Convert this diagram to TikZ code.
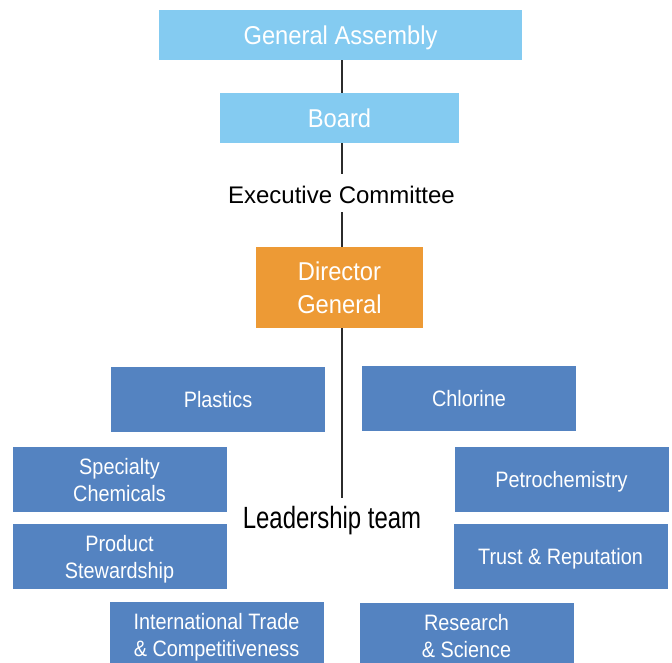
\documentclass[tikz,border=0pt]{standalone}
\usepackage{fontspec}
\setmainfont{Liberation Sans}
\newfontfamily\govfont[FakeStretch=0.92]{Liberation Sans}
\newfontfamily\unitfont[FakeStretch=0.89]{Liberation Sans}
\newfontfamily\leadfont[FakeStretch=0.78]{Liberation Sans}
\definecolor{govblue}{HTML}{84CBF1}
\definecolor{dgorange}{HTML}{ED9A35}
\definecolor{unitblue}{HTML}{5483C1}
\definecolor{spine}{HTML}{2B2B2B}
\begin{document}
\begin{tikzpicture}[x=1pt,y=-1pt,
  govbox/.style={fill=govblue,text=white,inner sep=0pt,minimum height=50pt,
    font=\govfont\fontsize{25.8}{33.3}\selectfont,text height=18.5pt,text depth=0pt},
  dgbox/.style={fill=dgorange,text=white,inner sep=0pt,align=center,
    font=\govfont\fontsize{25.8}{33.3}\selectfont,text depth=0pt},
  unitbox/.style={fill=unitblue,text=white,inner sep=0pt,align=center,
    minimum width=214pt,minimum height=65pt,
    font=\unitfont\fontsize{22.3}{27}\selectfont,text depth=0pt},
  oneline/.style={text height=16pt},
  caption/.style={inner xsep=0pt,inner ysep=4pt,anchor=base,
    text height=26pt,text depth=4pt},
  link/.style={draw=spine,line width=1.6pt}]
\useasboundingbox (0,0) rectangle (672,663);
\clip (0,0) rectangle (672,663);

% governance chain
\node[govbox,minimum width=363pt] (ga) at (340.5,35) {General Assembly};
\node[govbox,minimum width=239pt] (board) at (339.5,118) {Board};
\node[caption,font=\fontsize{24}{30}\selectfont] (exec) at (341.5,204) {Executive Committee};
\node[dgbox,minimum width=167pt,minimum height=81pt] (dg) at (339.5,287.5) {Director\\General};
\node[caption,font=\leadfont\fontsize{30.7}{36}\selectfont] (lead) at (332,528) {Leadership team};

% vertical spine
\coordinate (axis) at (342,0);
\draw[link] (axis |- ga.south) -- (axis |- board.north);
\draw[link] (axis |- board.south) -- (axis |- exec.north);
\draw[link] (axis |- exec.south) -- (axis |- dg.north);
\draw[link] (axis |- dg.south) -- (axis |- lead.north);

% leadership team units
\node[unitbox,oneline] (plastics) at (218,399.5) {Plastics};
\node[unitbox,oneline] (chlorine) at (469,398.5) {Chlorine};
\node[unitbox] (specialty) at (119.5,479.5) {Specialty\\Chemicals};
\node[unitbox,oneline] (petro) at (561.5,479.5) {Petrochemistry};
\node[unitbox] (product) at (119.5,556.5) {Product\\Stewardship};
\node[unitbox,oneline] (trust) at (560.5,556.5) {Trust \& Reputation};
\node[unitbox] (trade) at (216.5,634.5) {International Trade\\\& Competitiveness};
\node[unitbox] (research) at (466.5,635.5) {Research\\\& Science};
\end{tikzpicture}
\end{document}
